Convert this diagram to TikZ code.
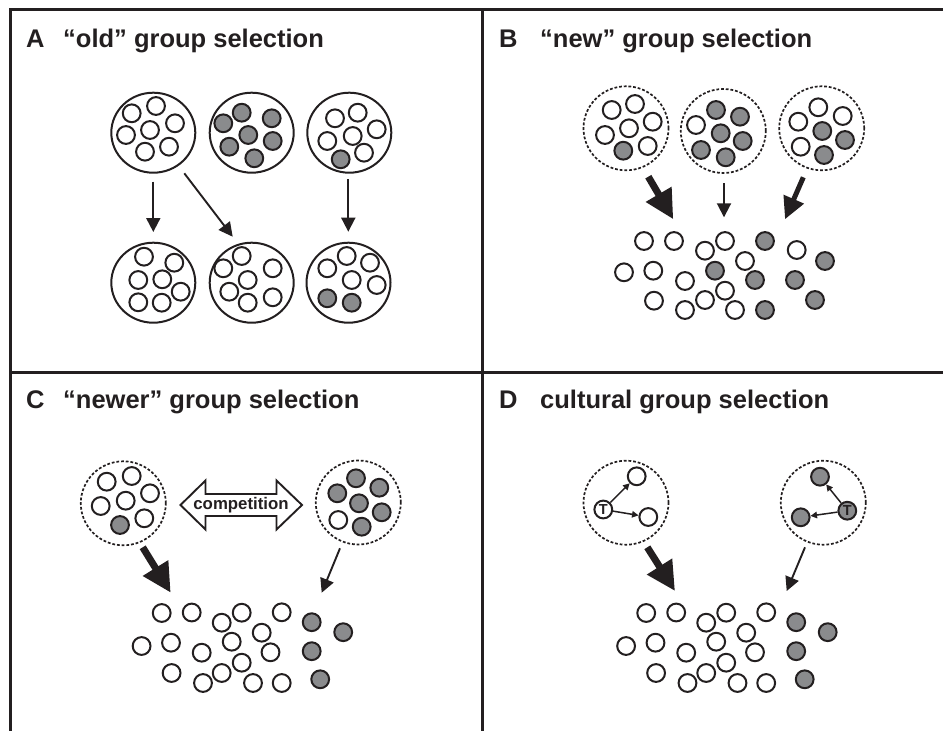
\documentclass[tikz,border=0pt]{standalone}
\usepackage{fontspec}
\setmainfont{Liberation Sans}
\usetikzlibrary{arrows.meta,shapes.geometric}
\definecolor{ink}{HTML}{231F20}
\definecolor{dotg}{HTML}{8A8B8D}
\begin{document}
\begin{tikzpicture}[x=1pt,y=-1pt,
  wd/.style={circle,draw=ink,fill=white,line width=2pt,minimum size=17.8pt,inner sep=0pt},
  gd/.style={wd,fill=dotg},
  bigc/.style={ellipse,draw=ink,line width=2pt,minimum width=84pt,minimum height=80pt,inner sep=0pt},
  dashc/.style={ellipse,draw=ink,line width=1.7pt,dash pattern=on 2.8pt off 1.9pt,minimum width=85pt,minimum height=84pt,inner sep=0pt},
  framel/.style={draw=ink,line width=3pt},
  ttl/.style={font=\fontsize{25.5}{30}\selectfont\bfseries,text=ink,inner sep=0pt,anchor=base west},
  arrthin/.style={draw=ink,line width=1.9pt,-{Triangle[length=14pt,width=14pt]}},
  arrmid/.style={draw=ink,line width=5pt,-{Triangle[length=22pt,width=21pt]}},
  arrthick/.style={draw=ink,line width=7pt,-{Triangle[length=29pt,width=28pt]}},
  arrtiny/.style={draw=ink,line width=1.5pt,-{Triangle[length=6.5pt,width=6.5pt]}},
]
\useasboundingbox (0,0) rectangle (943,731);
% frame
\coordinate (tl) at (10,9); \coordinate (tr) at (943,9);
\coordinate (bl) at (10,731); \coordinate (ml) at (10,372);
\coordinate (mr) at (943,372); \coordinate (mt) at (482,9);
\coordinate (mb) at (482,731);
\draw[framel,line join=miter] (bl) -- (tl) -- (tr);
\draw[framel] (ml) -- (mr);
\draw[framel] (mt) -- (mb);
% titles
\node[ttl] (lA) at (26,47) {A};
\node[ttl] (tA) at (63,47) {“old” group selection};
\node[ttl] (lB) at (499,47) {B};
\node[ttl] (tB) at (540,47) {“new” group selection};
\node[ttl] (lC) at (26,408) {C};
\node[ttl] (tC) at (63,408) {“newer” group selection};
\node[ttl] (lD) at (499,408) {D};
\node[ttl] (tD) at (540,408) {cultural group selection};

% ---------- Panel A ----------
\node[bigc] (A1) at (153.3,132.7) {};
\node[bigc] (A2) at (251.7,132.7) {};
\node[bigc] (A3) at (349.3,132.7) {};
\node[bigc] (A4) at (153.3,282.7) {};
\node[bigc] (A5) at (251.7,282.7) {};
\node[bigc] (A6) at (348.5,282.7) {};
\foreach \p/\q/\s [count=\i] in {131.7/113.3/wd,156/106/wd,175/123.3/wd,126/135/wd,150/130/wd,145/151.7/wd,169/146.7/wd}
  \node[\s] (Aa\i) at (\p,\q) {};
\foreach \p/\q/\s [count=\i] in {223.3/123.3/gd,241.7/112.7/gd,271.7/118.3/gd,248.3/135/gd,229.3/146.7/gd,272.7/141/gd,254.3/158.3/gd}
  \node[\s] (Ab\i) at (\p,\q) {};
\foreach \p/\q/\s [count=\i] in {335/118.3/wd,357.7/112.7/wd,376.7/129.3/wd,327.3/141/wd,352.7/136/wd,364/152.7/wd,340.7/159.3/gd}
  \node[\s] (Ac\i) at (\p,\q) {};
\foreach \p/\q/\s [count=\i] in {144/256.7/wd,174.3/262.7/wd,138.3/280/wd,162.3/279.3/wd,180.7/291.7/wd,138.3/302.3/wd,161.7/302.7/wd}
  \node[\s] (Ad\i) at (\p,\q) {};
\foreach \p/\q/\s [count=\i] in {223.3/268.3/wd,241.7/256/wd,272.7/268.3/wd,247.7/280/wd,229.3/291.7/wd,272.7/297.3/wd,247.7/302.7/wd}
  \node[\s] (Ae\i) at (\p,\q) {};
\foreach \p/\q/\s [count=\i] in {327.3/268.3/wd,346.7/256/wd,370/262.7/wd,351.7/280/wd,376.7/285/wd,327.3/298.3/gd,351.7/302.7/gd}
  \node[\s] (Af\i) at (\p,\q) {};
\coordinate (a1s) at (153.3,181.5); \coordinate (a1e) at (153.3,232);
\coordinate (a2s) at (184.3,173.3); \coordinate (a2e) at (232.7,236.7);
\coordinate (a3s) at (348.3,179.3); \coordinate (a3e) at (348.3,231.7);
\draw[arrthin] (a1s) -- (a1e);
\draw[arrthin] (a2s) -- (a2e);
\draw[arrthin] (a3s) -- (a3e);

% ---------- Panel B ----------
\node[dashc] (B1) at (626,128.3) {};
\node[dashc] (B2) at (723.3,131) {};
\node[dashc] (B3) at (821.7,128.3) {};
\foreach \p/\q/\s [count=\i] in {611.7/110/wd,635/104/wd,652.7/121.7/wd,605/135/wd,629/128.3/wd,623.3/150.7/gd,647.7/146/wd}
  \node[\s] (Ba\i) at (\p,\q) {};
\foreach \p/\q/\s [count=\i] in {716/110/gd,740/116.7/gd,696/125/wd,720.7/133.3/gd,742.7/141/gd,701/150/gd,725.7/157.3/gd}
  \node[\s] (Bb\i) at (\p,\q) {};
\foreach \p/\q/\s [count=\i] in {818.3/107.3/wd,842.7/116/wd,798.3/121.7/wd,822.3/131/gd,845/140/gd,800.7/146.7/wd,824/155/gd}
  \node[\s] (Bc\i) at (\p,\q) {};
\coordinate (b1s) at (648.3,176.7); \coordinate (b1e) at (673.3,219.3);
\coordinate (b2s) at (724,183.3); \coordinate (b2e) at (724,217.3);
\coordinate (b3s) at (803.3,177.3); \coordinate (b3e) at (785,219.3);
\draw[arrthick] (b1s) -- (b1e);
\draw[arrthin] (b2s) -- (b2e);
\draw[arrmid] (b3s) -- (b3e);
\foreach \p/\q/\s [count=\i] in {644/241/wd,674/241/wd,705/250.7/wd,725/241/wd,765/241/gd,796.7/250/wd,825/261/gd,
  624/272.3/wd,653.3/270.7/wd,715/270.7/gd,745/261/wd,685/281/wd,755/280/gd,795/280/gd,
  654/300.7/wd,705/300/wd,725/290.7/wd,685/310/wd,735/310/wd,765/310/gd,815/300/gd}
  \node[\s] (Bp\i) at (\p,\q) {};

% ---------- Panel C ----------
\node[dashc] (C1) at (123.3,503.3) {};
\node[dashc] (C2) at (358.3,502.5) {};
\foreach \p/\q/\s [count=\i] in {106.7/481.7/wd,131.7/476/wd,150/493.3/wd,100.7/506/wd,125.7/500.7/wd,120/525/gd,144.3/518.3/wd}
  \node[\s] (Ca\i) at (\p,\q) {};
\foreach \p/\q/\s [count=\i] in {356/478.3/gd,379.3/487.7/gd,337.3/493.3/gd,359/503.3/gd,381.7/512.3/gd,338.3/520/wd,361.7/526.7/gd}
  \node[\s] (Cb\i) at (\p,\q) {};
\node[font=\fontsize{16.8}{20}\selectfont\bfseries,text=ink,inner sep=0pt] (comp) at (241,505) {competition};
\draw[draw=ink,line width=1.9pt,line join=miter]
  ([xshift=-60.5pt]comp.center) -- ++(25,-24.5) -- ++(0,13.5) -- ++(71,0) -- ++(0,-13.5)
  -- ++(25.5,24.5) -- ++(-25.5,24.5) -- ++(0,-13.5) -- ++(-71,0) -- ++(0,13.5) -- cycle;
\coordinate (c1s) at (142.7,547.3); \coordinate (c1e) at (170.7,592.7);
\coordinate (c2s) at (340,548.3); \coordinate (c2e) at (321.7,592.7);
\draw[arrthick] (c1s) -- (c1e);
\draw[arrthin] (c2s) -- (c2e);
\foreach \p/\q/\s [count=\i] in {161.7/613/wd,191.7/612.5/wd,221.7/622.7/wd,241.7/612.7/wd,281.7/612.3/wd,261.7/632.7/wd,
  141.6/646/wd,171/642.7/wd,201.7/652.7/wd,231.7/641.7/wd,270.5/652.3/wd,241.7/662.7/wd,
  171.6/673/wd,203/683/wd,221.7/673/wd,253/683/wd,281.7/683/wd,
  311.7/622.2/gd,343.2/632.2/gd,311.7/651.2/gd,320.2/679.3/gd}
  {\node[\s] (Cp\i) at (\p,\q) {};
   \node[\s] (Dp\i) at (\p+484.5,\q) {};}

% ---------- Panel D ----------
\node[dashc] (D1) at (626,502.7) {};
\node[dashc] (D2) at (823.3,502.7) {};
\node[wd,font=\fontsize{14.5}{14}\selectfont\bfseries,text=ink] (T1) at (603.3,509.5) {T};
\node[wd] (D1a) at (636.7,476.3) {};
\node[wd] (D1b) at (648.3,517) {};
\node[gd,font=\fontsize{14.5}{14}\selectfont\bfseries,text=ink] (T2) at (847.3,510.7) {T};
\node[gd] (D2a) at (820,476.7) {};
\node[gd] (D2b) at (800.7,517.3) {};
\draw[arrtiny] (T1) -- (D1a);
\draw[arrtiny] (T1) -- (D1b);
\draw[arrtiny] (T2) -- (D2a);
\draw[arrtiny] (T2) -- (D2b);
\coordinate (d1s) at (647.3,547.3); \coordinate (d1e) at (675,591);
\coordinate (d2s) at (805,547.3); \coordinate (d2e) at (786.7,591);
\draw[arrthick] (d1s) -- (d1e);
\draw[arrthin] (d2s) -- (d2e);
\end{tikzpicture}
\end{document}
